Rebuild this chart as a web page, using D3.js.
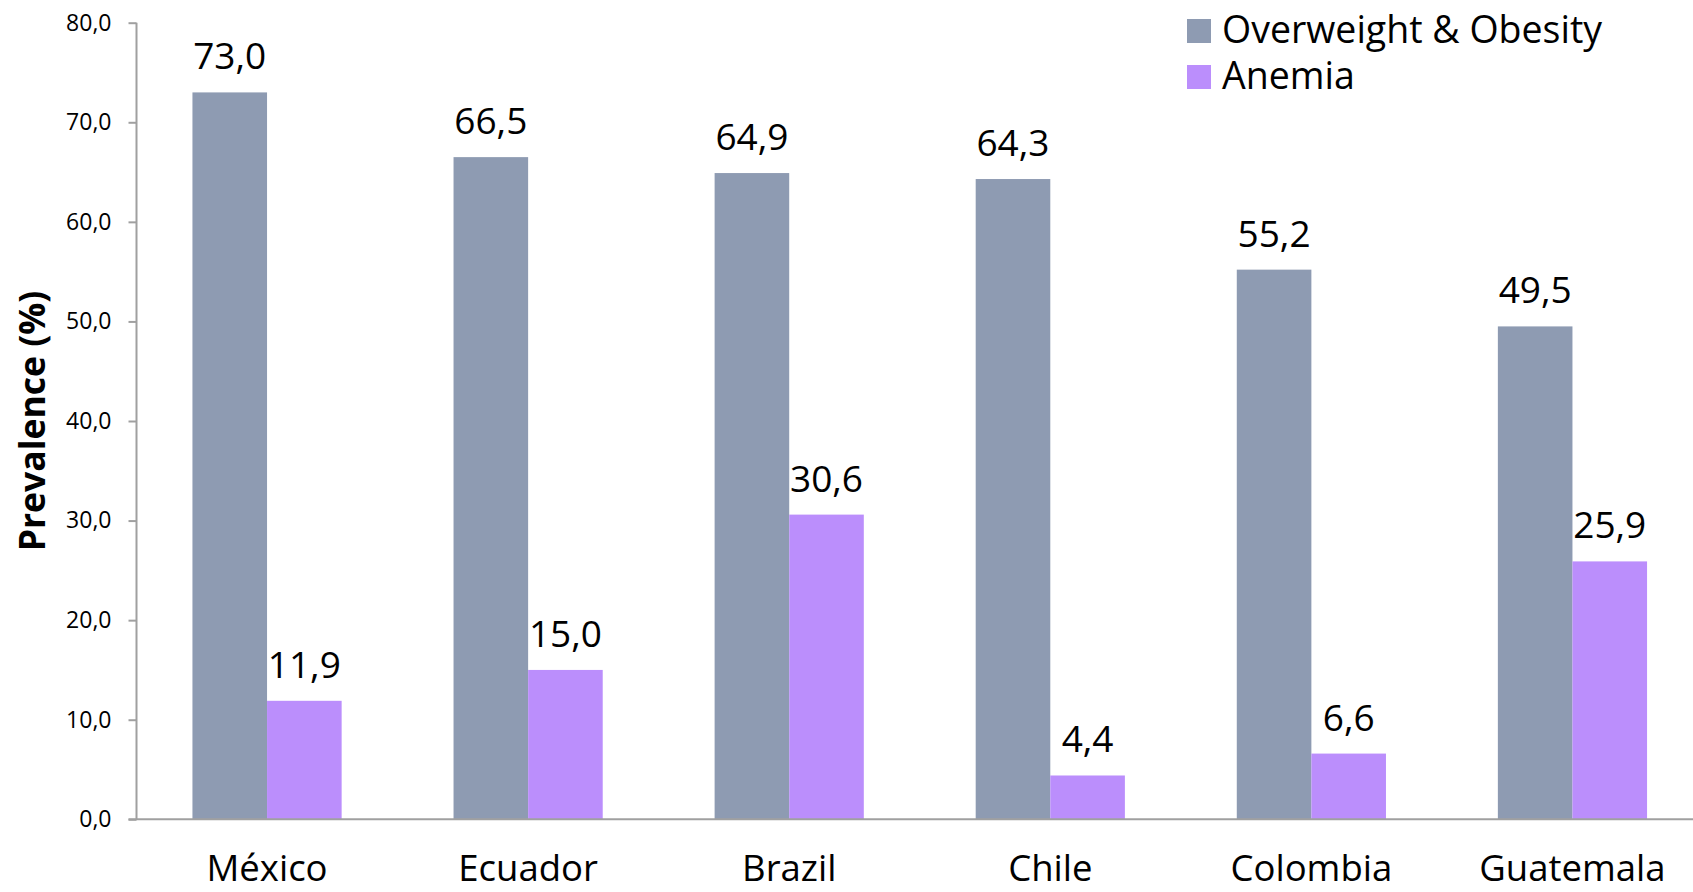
<!DOCTYPE html>
<html>
<head>
<meta charset="utf-8">
<script src="https://cdn.jsdelivr.net/npm/d3@7"></script>
<style>
  html, body { margin: 0; padding: 0; background: #fff; }
  svg { display: block; font-family: "Open Sans", sans-serif; }
</style>
</head>
<body>
<svg id="chart" width="1693" height="892"></svg>
<script>
const categories = ["México", "Ecuador", "Brazil", "Chile", "Colombia", "Guatemala"];
const seriesNames = ["Overweight & Obesity", "Anemia"];
const overweightObesity = [73.0, 66.5, 64.9, 64.3, 55.2, 49.5];
const anemia = [11.9, 15.0, 30.6, 4.4, 6.6, 25.9];
const yTicks = [0, 10, 20, 30, 40, 50, 60, 70, 80];
const colors = ["#8E9BB2", "#BB8EFC"];

const seriesValues = [overweightObesity, anemia];
const locale = d3.formatLocale({decimal: ",", thousands: ".", grouping: [3], currency: ["", ""]});
const fmt = locale.format(".1f");

const svg = d3.select("#chart");
const mLeft = 136.5, mRight = 1703, mTop = 22.7, mBottom = 819.3;

const x0 = d3.scaleBand().domain(categories).range([mLeft, mRight]).paddingInner(0).paddingOuter(0);
const bw = x0.bandwidth();
const x1 = d3.scaleBand().domain(seriesNames).range([bw * 0.75 / 3.5, bw * 2.75 / 3.5]).padding(0);
const y = d3.scaleLinear().domain([0, 80]).range([mBottom, mTop]);

// bars
const groups = svg.append("g").selectAll("g").data(categories).join("g")
  .attr("transform", d => `translate(${x0(d)},0)`);

groups.each(function(cat, i) {
  const g = d3.select(this);
  const data = seriesNames.map((s, k) => ({s, k, v: seriesValues[k][i]}));
  g.selectAll("rect").data(data).join("rect")
    .attr("x", d => x1(d.s))
    .attr("width", x1.bandwidth())
    .attr("y", d => y(d.v))
    .attr("height", d => y(0) - y(d.v))
    .attr("fill", d => colors[d.k]);
  g.selectAll("text").data(data).join("text")
    .attr("x", d => x1(d.s) + x1.bandwidth() / 2)
    .attr("y", d => y(d.v) - 23)
    .attr("text-anchor", "middle")
    .attr("font-size", 37)
    .attr("fill", "#000")
    .text(d => fmt(d.v));
});

// y axis
const yAxis = d3.axisLeft(y).tickValues(yTicks).tickSize(8).tickPadding(17).tickFormat(fmt);
const gy = svg.append("g").attr("transform", `translate(${mLeft},0)`).call(yAxis);
gy.select(".domain").attr("stroke", "#A0A0A0").attr("stroke-width", 2).attr("d", `M0,${mTop}V${mBottom}`);
gy.selectAll(".tick line").attr("stroke", "#A0A0A0").attr("stroke-width", 2);
gy.selectAll(".tick text").attr("font-size", 23).attr("font-family", "'Open Sans', sans-serif").attr("fill", "#000");

// x axis
const xAxis = d3.axisBottom(x0).tickSize(0).tickPadding(0);
const gx = svg.append("g").attr("transform", `translate(0,${mBottom})`).call(xAxis);
gx.select(".domain").attr("stroke", "#A0A0A0").attr("stroke-width", 2).attr("d", `M${mLeft - 8},0H${mRight}`);
gx.selectAll(".tick text").attr("font-size", 36.5).attr("font-family", "'Open Sans', sans-serif")
  .attr("fill", "#000").attr("dy", null).attr("y", 62);

// y title
svg.append("text")
  .attr("transform", `translate(45,421) rotate(-90)`)
  .attr("text-anchor", "middle")
  .attr("font-size", 35.5)
  .attr("font-weight", "bold")
  .attr("fill", "#000")
  .text("Prevalence (%)");

// legend
const legend = svg.append("g").selectAll("g").data(seriesNames).join("g")
  .attr("transform", (d, i) => `translate(1187,${19 + i * 46})`);
legend.append("rect").attr("width", 24).attr("height", 24).attr("fill", (d, i) => colors[i]);
legend.append("text").attr("x", 35).attr("y", 24).attr("font-size", 37.5).attr("fill", "#000").text(d => d);
</script>
</body>
</html>
